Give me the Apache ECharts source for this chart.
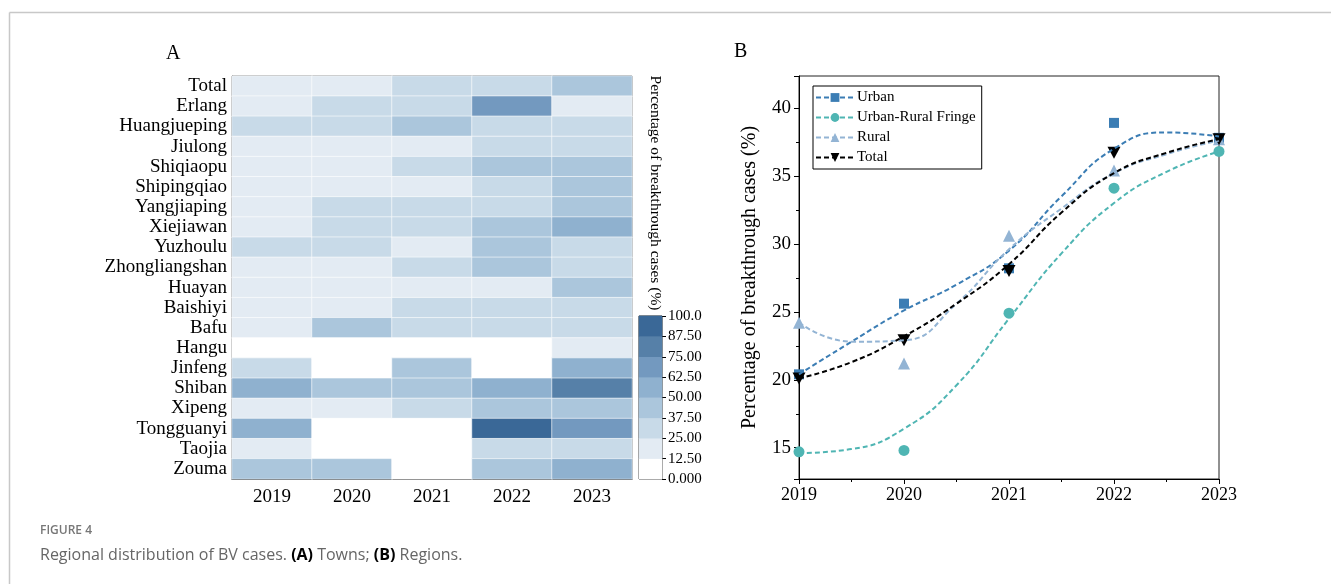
<!DOCTYPE html>
<html>
<head>
<meta charset="utf-8">
<script src="https://cdn.jsdelivr.net/npm/echarts@6/dist/echarts.min.js"></script>
<style>
html,body{margin:0;padding:0;background:#fff;}
#chart{width:1331px;height:584px;}
</style>
</head>
<body>
<div id="chart"></div>
<script>
// ---------- Data: panel A (heatmap) ----------
const years = ['2019', '2020', '2021', '2022', '2023'];
const towns = ['Total', 'Erlang', 'Huangjueping', 'Jiulong', 'Shiqiaopu', 'Shipingqiao', 'Yangjiaping',
  'Xiejiawan', 'Yuzhoulu', 'Zhongliangshan', 'Huayan', 'Baishiyi', 'Bafu', 'Hangu', 'Jinfeng',
  'Shiban', 'Xipeng', 'Tongguanyi', 'Taojia', 'Zouma'];
const v2019 = [20.1, 18, 33, 15, 17, 16, 19, 18, 31, 17, 18, 19, 18, 0, 29, 55, 17, 57, 18, 45];
const v2020 = [22.8, 30, 30, 17, 19, 18, 31, 30, 30, 20, 19, 20, 44, 0, 0, 43, 16, 0, 0, 44];
const v2021 = [28.0, 31, 42, 19, 32, 20, 30, 32, 18, 30, 20, 32, 31, 0, 42, 44, 31, 0, 0, 0];
const v2022 = [36.7, 70, 30, 29, 45, 30, 32, 44, 43, 45, 17, 31, 32, 0, 0, 56, 45, 92, 30, 43];
const v2023 = [37.7, 16, 31, 31, 44, 43, 45, 55, 32, 32, 44, 30, 30, 15, 56, 80, 43, 68, 31, 56];
const binEdges = [0, 12.5, 25, 37.5, 50, 62.5, 75, 87.5, 100];
const binColors = ['#ffffff', '#e3ebf3', '#c8dae8', '#abc6dc', '#8fb1cf', '#7399bf', '#5680a8', '#3a6897'];
const colorbarLabels = ['0.000', '12.50', '25.00', '37.50', '50.00', '62.50', '75.00', '87.50', '100.0'];

// ---------- Data: panel B (lines) ----------
const lineYears = [2019, 2020, 2021, 2022, 2023];
const urbanPts = [20.4, 25.6, 28.2, 38.9, 37.8];
const fringePts = [14.7, 14.8, 24.9, 34.1, 36.8];
const ruralPts = [24.2, 21.2, 30.6, 35.4, 37.7];
const totalPts = [20.1, 22.9, 28.0, 36.7, 37.7];
// fitted curves at half-year steps
const curveYears = [2019, 2019.5, 2020, 2020.5, 2021, 2021.5, 2022, 2022.5, 2023];
const urbanCurve = [20.4, 22.8, 25.1, 27.0, 29.5, 33.5, 37.0, 38.2, 37.9];
const fringeCurve = [14.6, 14.9, 16.4, 19.6, 24.5, 29.3, 33.0, 35.3, 36.8];
const ruralCurve = [24.2, 22.8, 22.9, 25.6, 29.6, 32.6, 35.2, 36.6, 37.6];
const totalCurve = [20.1, 21.3, 23.2, 25.6, 28.5, 32.3, 35.2, 36.7, 37.7];

const SERIF = 'Liberation Serif, Times New Roman, serif';
const colUrban = '#3b7db4', colFringe = '#4fb5b3', colRural = '#93b4d4', colTotal = '#000000';
const downTri = 'path://M0,0L10,0L5,9Z';

const yearVals = [v2019, v2020, v2021, v2022, v2023];
const heatData = [];
yearVals.forEach((arr, xi) => arr.forEach((v, yi) => heatData.push([xi, yi, v])));
const binMids = binColors.map((c, i) => [0, i, (binEdges[i] + binEdges[i + 1]) / 2]);
const pieces = binColors.map((c, i) => i === binColors.length - 1
  ? { gte: binEdges[i], lte: binEdges[i + 1], color: c }
  : { gte: binEdges[i], lt: binEdges[i + 1], color: c });

const zip = (xs, ys) => xs.map((x, i) => [x, ys[i]]);

const chart = echarts.init(document.getElementById('chart'), null, { renderer: 'canvas' });
const option = {
  backgroundColor: '#fff',
  animation: false,
  grid: [
    { left: 232, top: 76, width: 400, height: 403, show: true, borderColor: '#222', borderWidth: 1, backgroundColor: 'transparent' },
    { left: 639, top: 316, width: 23, height: 163, show: true, borderColor: '#222', borderWidth: 1 },
    { left: 799, top: 76, width: 420, height: 403, show: true, borderColor: '#222', borderWidth: 1 }
  ],
  xAxis: [
    { gridIndex: 0, type: 'category', data: years, axisLine: { lineStyle: { color: '#000' } },
      axisTick: { alignWithLabel: true, length: 5, lineStyle: { color: '#000' } },
      axisLabel: { fontFamily: SERIF, fontSize: 19, color: '#000', margin: 9 }, splitLine: { show: false } },
    { gridIndex: 1, type: 'category', data: [''], show: false },
    { gridIndex: 2, type: 'value', min: 2019, max: 2023, interval: 1,
      axisLine: { lineStyle: { color: '#000' } },
      axisTick: { length: 5, lineStyle: { color: '#000' } },
      minorTick: { show: true, splitNumber: 2, length: 3, lineStyle: { color: '#000' } },
      axisLabel: { fontFamily: SERIF, fontSize: 18, color: '#000', margin: 7, formatter: v => String(v) },
      splitLine: { show: false } }
  ],
  yAxis: [
    { gridIndex: 0, type: 'category', data: towns, inverse: true,
      axisLine: { lineStyle: { color: '#000' } },
      axisTick: { alignWithLabel: true, interval: 0, length: 4, lineStyle: { color: '#000' } },
      axisLabel: { interval: 0, fontFamily: SERIF, fontSize: 19, color: '#000', margin: 5 }, splitLine: { show: false } },
    { gridIndex: 1, type: 'category', data: binColors.map((c, i) => 'b' + i), show: false },
    { gridIndex: 1, type: 'value', min: 0, max: 100, interval: 12.5, position: 'right',
      axisLine: { show: false },
      axisTick: { show: true, length: 4, lineStyle: { color: '#000' } },
      axisLabel: { fontFamily: SERIF, fontSize: 15, color: '#000', margin: 6,
        formatter: v => colorbarLabels[Math.round(v / 12.5)] },
      splitLine: { show: false } },
    { gridIndex: 2, type: 'value', min: 12.7, max: 42.35,
      axisLine: { show: true, lineStyle: { color: '#000' } },
      axisTick: { show: true, length: 5, lineStyle: { color: '#000' } },
      minorTick: { show: true, splitNumber: 2, length: 3, lineStyle: { color: '#000' } },
      axisLabel: { fontFamily: SERIF, fontSize: 19, color: '#000', margin: 8,
        formatter: v => (Math.abs(v % 5) < 1e-6 ? String(v) : '') },
      splitLine: { show: false },
      name: 'Percentage of breakthrough cases (%)', nameLocation: 'middle', nameGap: 39,
      nameTextStyle: { fontFamily: SERIF, fontSize: 20, color: '#000' } }
  ],
  visualMap: { type: 'piecewise', show: false, seriesIndex: [0, 1], dimension: 2, pieces: pieces },
  legend: {
    left: 813, top: 86, orient: 'vertical', data: ['Urban', 'Urban-Rural Fringe', 'Rural', 'Total'],
    borderColor: '#000', borderWidth: 1, borderRadius: 0, padding: [4, 6, 4, 2],
    itemWidth: 38, itemHeight: 11, itemGap: 5,
    textStyle: { fontFamily: SERIF, fontSize: 15, color: '#000', padding: [0, 0, 0, -2] }
  },
  series: [
    { type: 'heatmap', xAxisIndex: 0, yAxisIndex: 0, data: heatData,
      itemStyle: { borderColor: '#ffffff', borderWidth: 0.6 }, emphasis: { disabled: true } },
    { type: 'heatmap', xAxisIndex: 1, yAxisIndex: 1, data: binMids, itemStyle: { borderWidth: 0 } },
    // fitted curves
    { name: 'Urban', type: 'line', xAxisIndex: 2, yAxisIndex: 3, data: zip(curveYears, urbanCurve),
      smooth: 0.5, symbol: 'rect', showSymbol: false, color: colUrban,
      lineStyle: { color: colUrban, width: 2, type: [5, 3] } },
    { name: 'Urban-Rural Fringe', type: 'line', xAxisIndex: 2, yAxisIndex: 3, data: zip(curveYears, fringeCurve),
      smooth: 0.5, symbol: 'circle', showSymbol: false, color: colFringe,
      lineStyle: { color: colFringe, width: 2, type: [5, 3] } },
    { name: 'Rural', type: 'line', xAxisIndex: 2, yAxisIndex: 3, data: zip(curveYears, ruralCurve),
      smooth: 0.5, symbol: 'triangle', showSymbol: false, color: colRural,
      lineStyle: { color: colRural, width: 2, type: [5, 3] } },
    { name: 'Total', type: 'line', xAxisIndex: 2, yAxisIndex: 3, data: zip(curveYears, totalCurve),
      smooth: 0.5, symbol: downTri, showSymbol: false, color: colTotal,
      lineStyle: { color: colTotal, width: 2, type: [5, 3] } },
    // observed points
    { name: 'Urban', type: 'scatter', xAxisIndex: 2, yAxisIndex: 3, data: zip(lineYears, urbanPts),
      symbol: 'rect', symbolSize: 10, itemStyle: { color: colUrban, opacity: 1 } },
    { name: 'Urban-Rural Fringe', type: 'scatter', xAxisIndex: 2, yAxisIndex: 3, data: zip(lineYears, fringePts),
      symbol: 'circle', symbolSize: 11, itemStyle: { color: colFringe, opacity: 1 } },
    { name: 'Rural', type: 'scatter', xAxisIndex: 2, yAxisIndex: 3, data: zip(lineYears, ruralPts),
      symbol: 'triangle', symbolSize: 12, itemStyle: { color: colRural, opacity: 1 } },
    { name: 'Total', type: 'scatter', xAxisIndex: 2, yAxisIndex: 3, data: zip(lineYears, totalPts),
      symbol: downTri, symbolSize: [13, 12], itemStyle: { color: colTotal, opacity: 1 } }
  ],
  graphic: [
    { type: 'line', silent: true, shape: { x1: 9.5, y1: 12.5, x2: 1331, y2: 12.5 }, style: { stroke: '#c8c8c8', lineWidth: 1.5 } },
    { type: 'line', silent: true, shape: { x1: 9.5, y1: 12.5, x2: 9.5, y2: 584 }, style: { stroke: '#c8c8c8', lineWidth: 1.5 } },
    { type: 'text', left: 166, top: 44, style: { text: 'A', fontFamily: SERIF, fontSize: 20, fill: '#000' } },
    { type: 'text', left: 734, top: 42, style: { text: 'B', fontFamily: SERIF, fontSize: 20, fill: '#000' } },
    { type: 'text', x: 655, y: 193, rotation: -Math.PI / 2,
      style: { text: 'Percentage of breakthrough cases (%)', fontFamily: SERIF, fontSize: 15.5, fill: '#000',
        align: 'center', verticalAlign: 'middle' } },
    { type: 'text', left: 40, top: 525,
      style: { text: 'FIGURE 4', fontFamily: 'Open Sans', fontSize: 12, fontWeight: 600, fill: '#777' } },
    { type: 'text', left: 40, top: 547,
      style: { text: '{n|Regional distribution of BV cases. }{b|(A)}{n| Towns; }{b|(B)}{n| Regions.}',
        rich: { n: { fontFamily: 'Open Sans', fontSize: 16, fill: '#666', color: '#666' },
                b: { fontFamily: 'Open Sans', fontSize: 16, fontWeight: 'bold', color: '#666' } } } }
  ]
};
chart.setOption(option);
</script>
</body>
</html>
